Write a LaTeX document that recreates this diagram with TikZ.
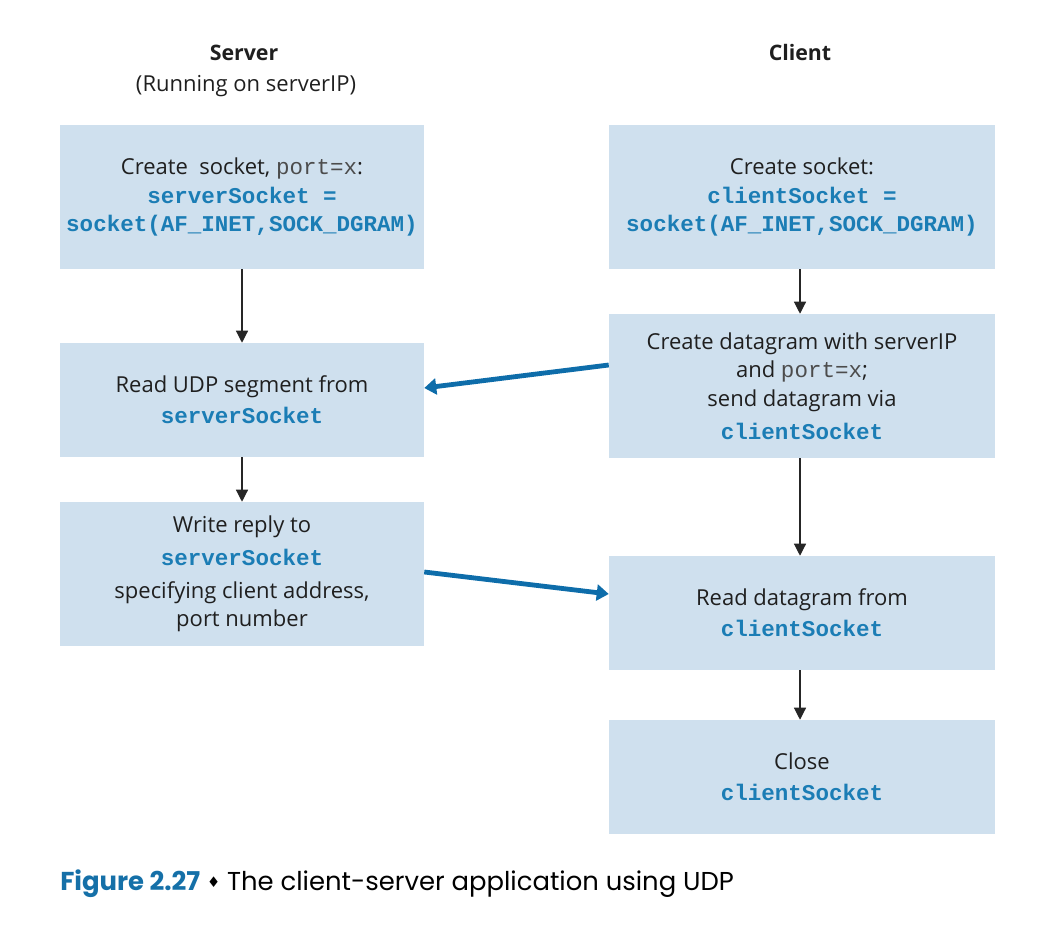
\documentclass[tikz,border=0pt]{standalone}
\usepackage{fontspec}
\setmainfont{Open Sans}
\setmonofont{Liberation Mono}
\newfontfamily\capfont{Poppins}
\newfontfamily\symfont{DejaVu Sans}
\usetikzlibrary{arrows.meta}
\definecolor{boxfill}{HTML}{CFE0EE}
\definecolor{codeblue}{HTML}{1B7DB5}
\definecolor{arrblue}{HTML}{0E6DAA}
\definecolor{figblue}{HTML}{1570A8}
\newcommand{\code}[1]{{\fontsize{16.9}{21.5}\selectfont\ttfamily\bfseries\color{codeblue}#1}}
\newcommand{\plaincode}[1]{{\fontsize{16.9}{21.5}\selectfont\ttfamily\color{black!70}#1}}
\begin{document}
\begin{tikzpicture}[x=0.75pt,y=-0.75pt,
  box/.style={fill=boxfill, draw=none, align=center, inner sep=0pt,
    font=\fontsize{16.5}{21.5}\selectfont, text=black!88},
  lbox/.style={box, minimum width=273pt},
  rbox/.style={box, minimum width=289.5pt},
  tall/.style={minimum height=108pt},
  short/.style={minimum height=85.5pt},
  flow/.style={-{Triangle[length=9pt,width=9pt]}, line width=0.9pt, black!85},
  msg/.style={-{Triangle[length=9pt,width=12pt]}, line width=3.6pt, arrblue},
  head/.style={font=\fontsize{16.5}{19}\selectfont, text=black!88}
]
\useasboundingbox (0,0) rectangle (1060,945);

\node[head, font=\fontsize{16}{19}\selectfont\bfseries] (hs) at (244,53) {Server};
\node[head] (hs2) at (246,86) {(Running on serverIP)};
\node[head, font=\fontsize{16}{19}\selectfont\bfseries] (hc) at (800,53) {Client};

\node[lbox, tall] (sC) at (242,197) {Create\ \ socket, \plaincode{port=x}:\\ \code{serverSocket =}\\ \code{socket(AF\_INET,SOCK\_DGRAM)}};
\node[lbox, short] (sR) at (242,400) {Read UDP segment from\\[2pt] \code{serverSocket}};
\node[lbox, tall] (sW) at (242,574) {Write reply to\\[3pt] \code{serverSocket}\\[3pt] specifying client address,\\ port number};

\node[rbox, tall] (cC) at (802,197) {Create socket:\\ \code{clientSocket =}\\ \code{socket(AF\_INET,SOCK\_DGRAM)}};
\node[rbox, tall] (cD) at (802,386) {Create datagram with serverIP\\ and \plaincode{port=x};\\ send datagram via\\[3pt] \code{clientSocket}};
\node[rbox, short] (cR) at (802,613) {Read datagram from\\[2pt] \code{clientSocket}};
\node[rbox, short] (cX) at (802,777) {Close\\[2pt] \code{clientSocket}};

\draw[flow] (sC.south) -- (sR.north);
\draw[flow] (sR.south) -- (sW.north);
\draw[flow] ([xshift=-1.5pt]cC.south) -- ([xshift=-1.5pt]cD.north);
\draw[flow] ([xshift=-1.5pt]cD.south) -- ([xshift=-1.5pt]cR.north);
\draw[flow] ([xshift=-1.5pt]cR.south) -- ([xshift=-1.5pt]cX.north);

\draw[msg] ([yshift=15.75pt]cD.west) -- ([yshift=9pt]sR.east);
\draw[msg] ([yshift=1.5pt]sW.east) -- ([yshift=14.25pt]cR.west);

\node[anchor=base west, inner sep=0pt, font=\capfont\fontsize{19.4}{24}\selectfont] (cap) at (60,890)
  {{\bfseries\color{figblue}Figure 2.27} {\symfont\fontsize{11}{12}\selectfont\raisebox{2pt}{\char"2666}} The client-server application using UDP};
\end{tikzpicture}
\end{document}
